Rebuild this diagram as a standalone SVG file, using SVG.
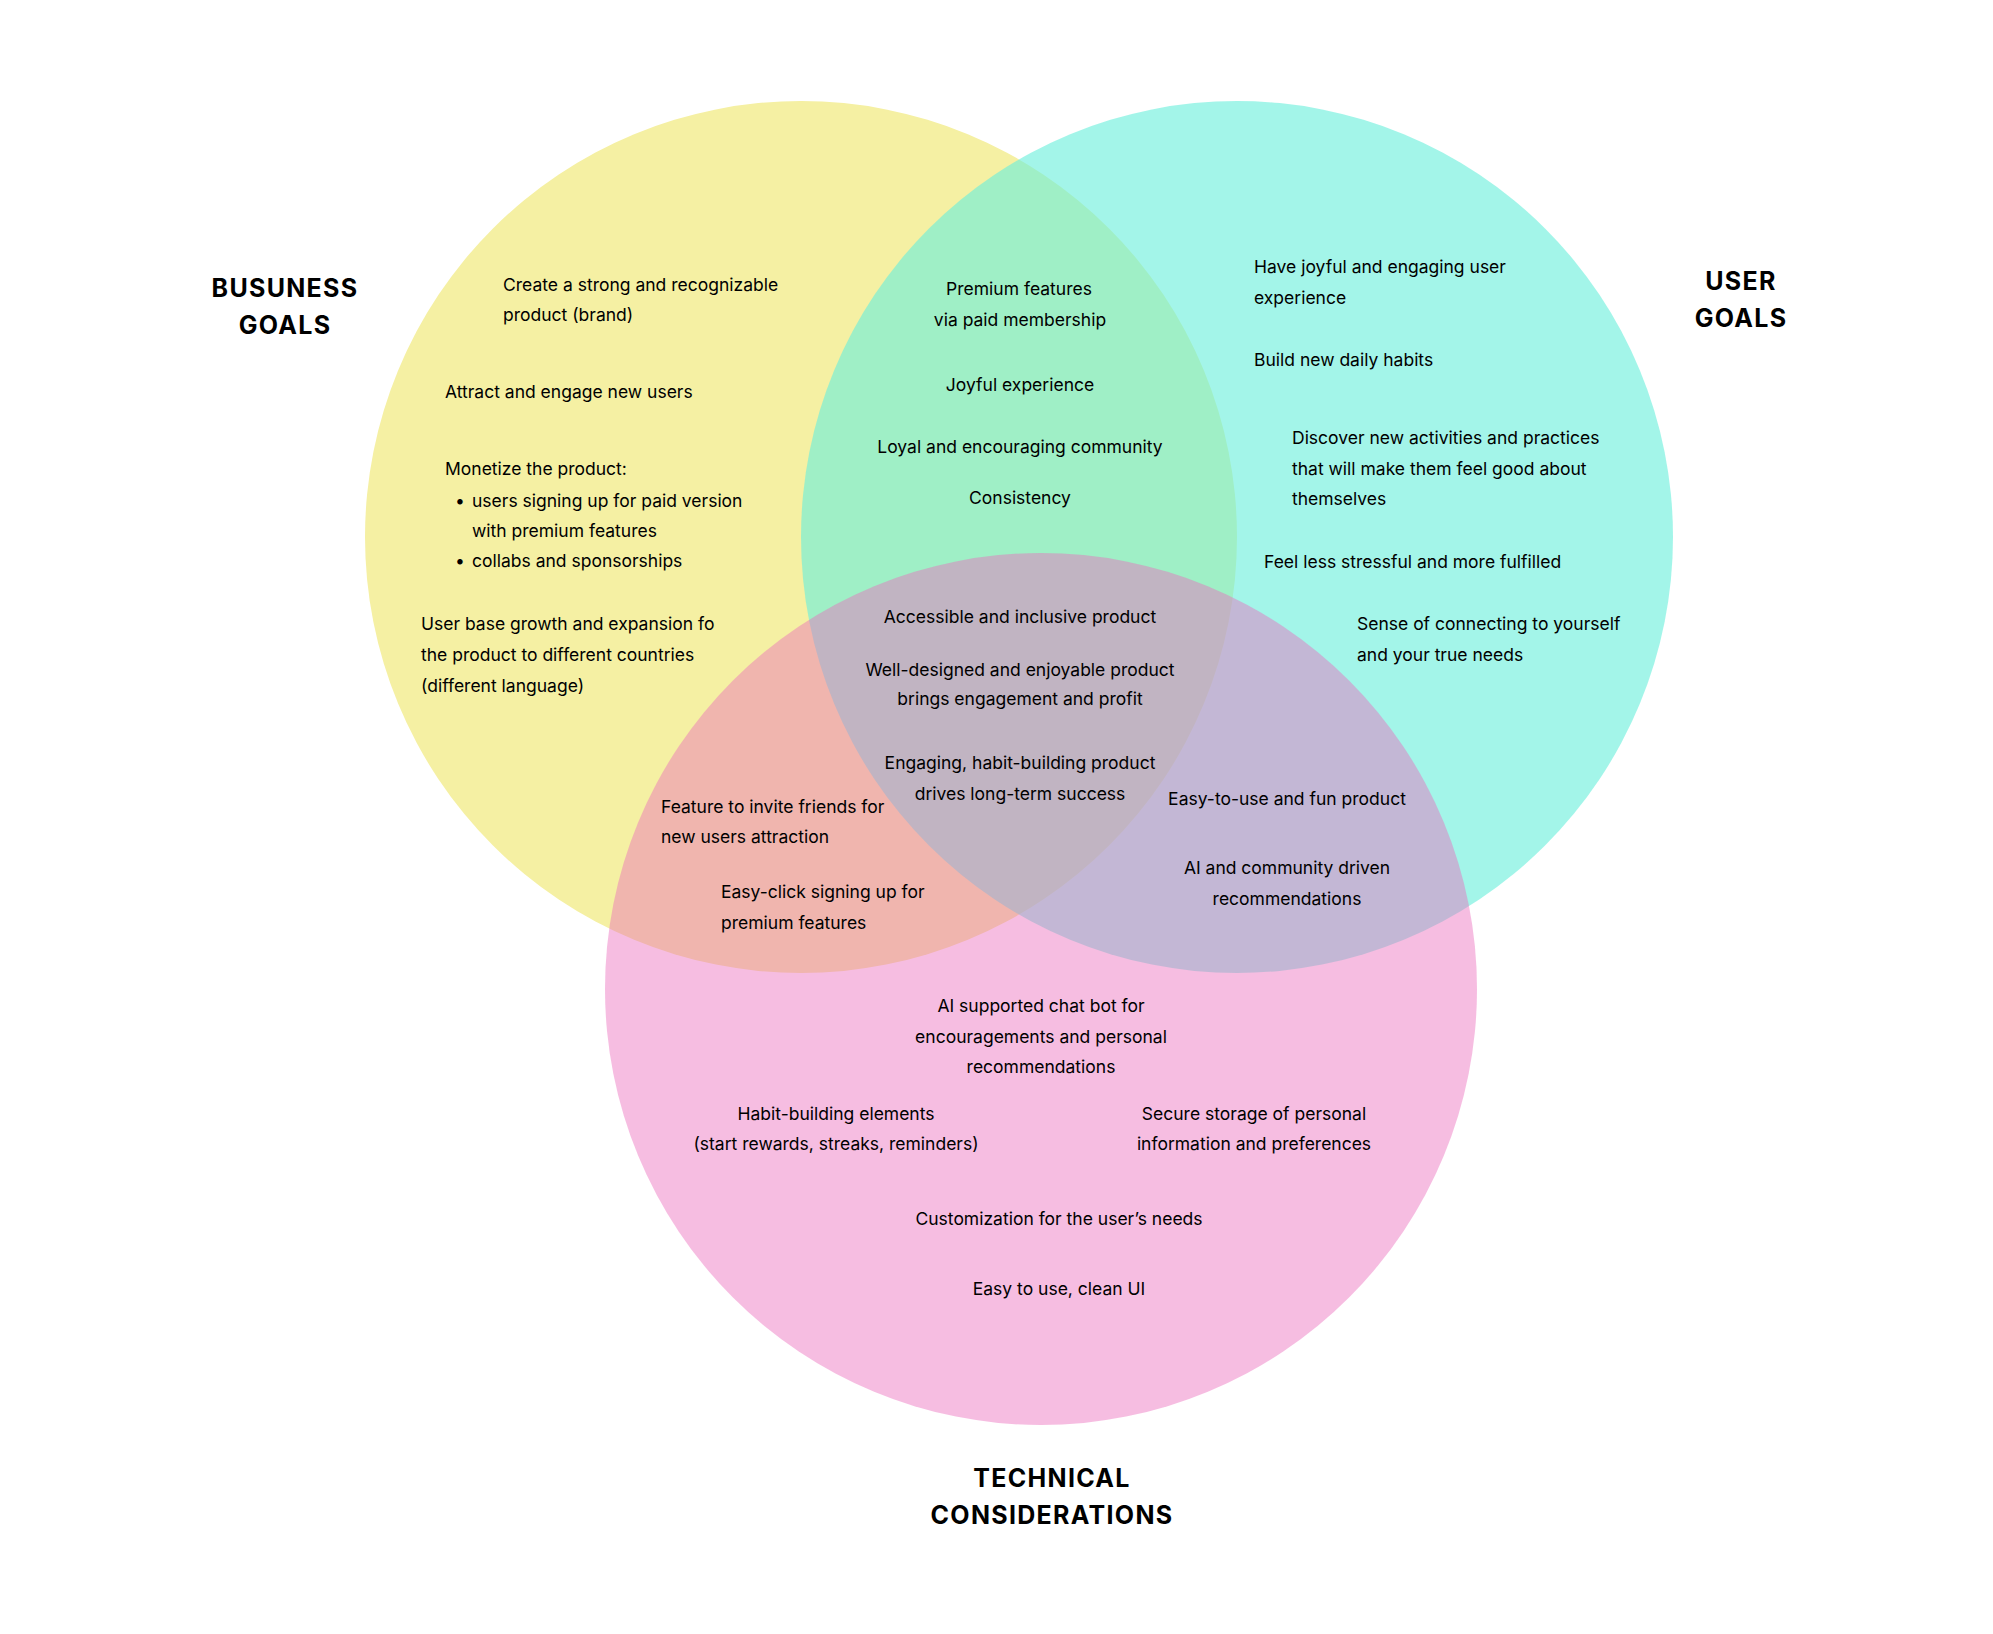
<svg xmlns="http://www.w3.org/2000/svg" width="1993" height="1634" viewBox="0 0 1993 1634">
<style>
.t{font-family:Inter,"Noto Sans","Liberation Sans",sans-serif;font-size:17.5px;fill:#000}
.c{text-anchor:middle}
.h{font-family:Inter,"Noto Sans","Liberation Sans",sans-serif;font-size:25px;font-weight:700;letter-spacing:1.3px;fill:#000;text-anchor:middle}
</style>
<rect width="1993" height="1634" fill="#fff"/>
<g id="circle-business"><circle cx="801" cy="537" r="436" fill="#F5F0A3"/></g>
<g id="circle-user"><circle cx="1237" cy="537" r="436" fill="#6BEFDC" fill-opacity="0.62"/></g>
<g id="circle-technical"><circle cx="1041" cy="989" r="436" fill="#EB6DBD" fill-opacity="0.45"/></g>
<g id="connectors"></g>

<g id="label-business">
<text class="h" x="285" y="297">BUSUNESS</text>
<text class="h" x="285" y="334">GOALS</text>
</g>
<g id="label-user">
<text class="h" x="1741" y="290">USER</text>
<text class="h" x="1741" y="327">GOALS</text>
</g>
<g id="label-technical">
<text class="h" x="1052" y="1487">TECHNICAL</text>
<text class="h" x="1052" y="1524">CONSIDERATIONS</text>
</g>

<g id="business-items">
<text class="t" x="503" y="291">Create a strong and recognizable</text>
<text class="t" x="503" y="321">product (brand)</text>
<text class="t" x="445" y="398">Attract and engage new users</text>
<text class="t" x="445" y="475">Monetize the product:</text>
<text class="t" x="455" y="507">•</text>
<text class="t" x="472" y="507">users signing up for paid version</text>
<text class="t" x="472" y="537">with premium features</text>
<text class="t" x="455" y="567">•</text>
<text class="t" x="472" y="567">collabs and sponsorships</text>
<text class="t" x="421" y="630">User base growth and expansion fo</text>
<text class="t" x="421" y="661">the product to different countries</text>
<text class="t" x="421" y="692">(different language)</text>
</g>

<g id="business-user-items">
<text class="t c" x="1019" y="295">Premium features</text>
<text class="t c" x="1020" y="326">via paid membership</text>
<text class="t c" x="1020" y="391">Joyful experience</text>
<text class="t c" x="1020" y="453">Loyal and encouraging community</text>
<text class="t c" x="1020" y="504">Consistency</text>
</g>

<g id="user-items">
<text class="t" x="1254" y="273">Have joyful and engaging user</text>
<text class="t" x="1254" y="304">experience</text>
<text class="t" x="1254" y="366">Build new daily habits</text>
<text class="t" x="1292" y="444">Discover new activities and practices</text>
<text class="t" x="1292" y="475">that will make them feel good about</text>
<text class="t" x="1292" y="505">themselves</text>
<text class="t" x="1264" y="568">Feel less stressful and more fulfilled</text>
<text class="t" x="1357" y="630">Sense of connecting to yourself</text>
<text class="t" x="1357" y="661">and your true needs</text>
</g>

<g id="all-items">
<text class="t c" x="1020" y="623">Accessible and inclusive product</text>
<text class="t c" x="1020" y="676">Well-designed and enjoyable product</text>
<text class="t c" x="1020" y="705">brings engagement and profit</text>
<text class="t c" x="1020" y="769">Engaging, habit-building product</text>
<text class="t c" x="1020" y="800">drives long-term success</text>
</g>

<g id="business-technical-items">
<text class="t" x="661" y="813">Feature to invite friends for</text>
<text class="t" x="661" y="843">new users attraction</text>
<text class="t" x="721" y="898">Easy-click signing up for</text>
<text class="t" x="721" y="929">premium features</text>
</g>

<g id="user-technical-items">
<text class="t c" x="1287" y="805">Easy-to-use and fun product</text>
<text class="t c" x="1287" y="874">AI and community driven</text>
<text class="t c" x="1287" y="905">recommendations</text>
</g>

<g id="technical-items">
<text class="t c" x="1041" y="1012">AI supported chat bot for</text>
<text class="t c" x="1041" y="1043">encouragements and personal</text>
<text class="t c" x="1041" y="1073">recommendations</text>
<text class="t c" x="836" y="1120">Habit-building elements</text>
<text class="t c" x="836" y="1150">(start rewards, streaks, reminders)</text>
<text class="t c" x="1254" y="1120">Secure storage of personal</text>
<text class="t c" x="1254" y="1150">information and preferences</text>
<text class="t c" x="1059" y="1225">Customization for the user’s needs</text>
<text class="t c" x="1059" y="1295">Easy to use, clean UI</text>
</g>
</svg>
